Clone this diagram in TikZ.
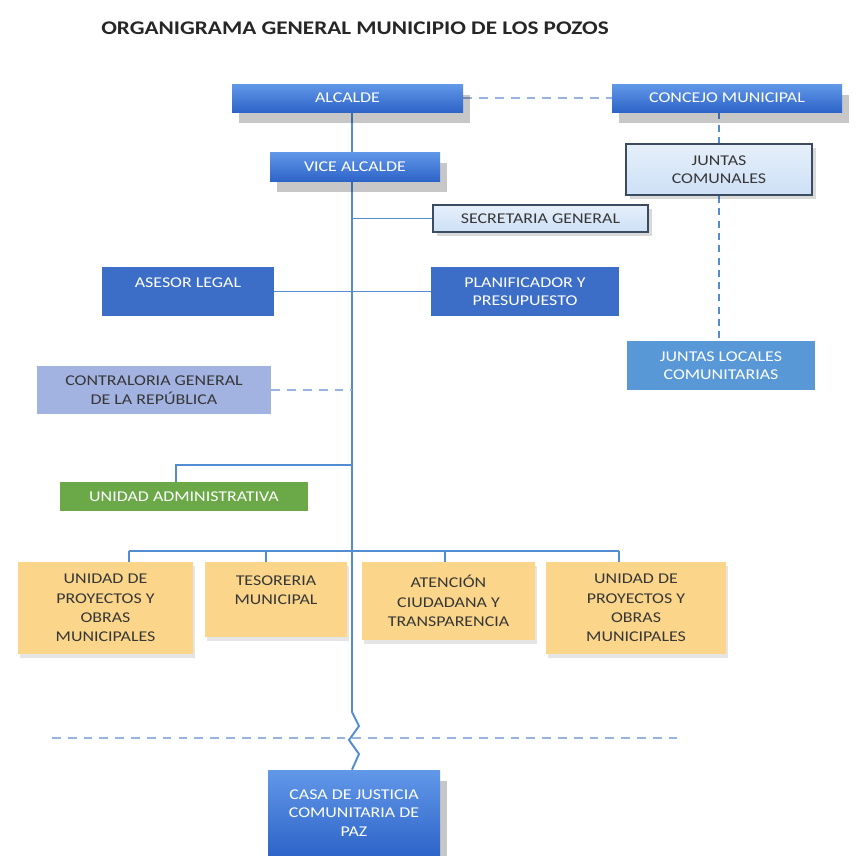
\documentclass[tikz,border=0pt]{standalone}
\usepackage{fontspec}
\setmainfont[FakeStretch=1.2]{Carlito}
\usetikzlibrary{shadows,backgrounds}
\definecolor{hdrT}{RGB}{98,152,232}
\definecolor{hdrB}{RGB}{45,100,200}
\definecolor{dkblue}{RGB}{60,110,200}
\definecolor{midblue}{RGB}{88,152,215}
\definecolor{lav}{RGB}{162,178,225}
\definecolor{grn}{RGB}{106,168,72}
\definecolor{lblue}{RGB}{205,224,246}
\definecolor{org}{RGB}{250,213,138}
\definecolor{lnc}{RGB}{82,140,210}
\definecolor{dashc}{RGB}{150,180,220}
\definecolor{txt}{RGB}{55,55,55}
\definecolor{bord}{RGB}{60,75,95}
\newcommand\obox[7]{\node[#6, minimum width={(#4-#2)*0.02cm}, minimum height={(#5-#3)*0.02cm}] (#1) at ({(#2+#4)/2},{(#3+#5)/2}) {#7};}
\begin{document}
\begin{tikzpicture}[x=0.02cm,y=-0.02cm,
  box/.style={inner sep=0pt, align=center, font=\fontsize{8.5}{10.5}\selectfont},
  hdr/.style={box, top color=hdrT, bottom color=hdrB, text=white,
    drop shadow={shadow xshift=4pt, shadow yshift=-6pt, fill=black, opacity=0.22}},
  solidb/.style={box, fill=dkblue, text=white},
  lbx/.style={box, top color=lblue!50, bottom color=lblue, draw=bord, line width=1.2pt, text=txt,
    drop shadow={shadow xshift=2pt, shadow yshift=-2pt, fill=black, opacity=0.15}},
  orb/.style={box, fill=org, text=txt, font=\fontsize{8.5}{11}\selectfont,
    drop shadow={shadow xshift=1pt, shadow yshift=-2pt, fill=black, opacity=0.10}},
  ln/.style={draw=lnc, line width=1.1pt},
  dln/.style={draw=dashc, line width=1.6pt, dash pattern=on 5pt off 4pt},
  vdln/.style={draw=lnc, line width=1.1pt, dash pattern=on 4pt off 3pt}]
\useasboundingbox (0,0) rectangle (856,856);

\node[font=\bfseries\fontsize{11}{13}\selectfont, text=black!85] (title) at (355,28) {ORGANIGRAMA GENERAL MUNICIPIO DE LOS POZOS};

\obox{alc}{232}{84}{463}{112}{hdr}{ALCALDE}
\obox{con}{612}{84}{842}{112}{hdr}{CONCEJO MUNICIPAL}
\obox{vic}{270}{152}{440}{181}{hdr}{VICE ALCALDE}
\obox{jc}{626}{144}{812}{195}{lbx}{JUNTAS\\COMUNALES}
\obox{sec}{433}{205}{648}{232}{lbx}{SECRETARIA GENERAL}
\obox{ase}{102}{267}{274}{316}{solidb}{ASESOR LEGAL\\\mbox{}}
\obox{pla}{431}{267}{619}{316}{solidb}{PLANIFICADOR Y\\PRESUPUESTO}
\obox{jl}{627}{341}{815}{390}{solidb, fill=midblue}{JUNTAS LOCALES\\COMUNITARIAS}
\obox{cgr}{37}{366}{271}{414}{solidb, fill=lav, text=txt}{CONTRALORIA GENERAL\\DE LA REPÚBLICA}
\obox{ua}{60}{482}{308}{511}{solidb, fill=grn}{UNIDAD ADMINISTRATIVA}
\obox{o1}{18}{562}{193}{654}{orb}{UNIDAD DE\\PROYECTOS Y\\OBRAS\\MUNICIPALES}
\obox{o2}{205}{562}{347}{637}{orb}{TESORERIA\\MUNICIPAL\\\mbox{}}
\obox{o3}{362}{562}{535}{640}{orb}{ATENCIÓN\\CIUDADANA Y\\TRANSPARENCIA}
\obox{o4}{546}{562}{726}{654}{orb}{UNIDAD DE\\PROYECTOS Y\\OBRAS\\MUNICIPALES}
\obox{cas}{268}{770}{440}{856}{hdr}{CASA DE JUSTICIA\\COMUNITARIA DE\\PAZ}

\coordinate (m) at (352,0);
\coordinate (uaj) at (176,465);
\coordinate (t1) at (129,551);
\coordinate (t2) at (266,551);
\coordinate (t3) at (445,551);
\coordinate (t4) at (619,551);
\coordinate (d1) at (52,738);
\coordinate (d2) at (680,738);

\begin{scope}[on background layer]
\fill[white] (0,0) rectangle (856,856);
\draw[dln] (alc.east) -- (con.west);
\draw[vdln] (con.south -| jc) -- (jc.north);
\draw[vdln] (jc.south) -- (jl.north -| jc);
\draw[ln] (alc.south -| m) -- (352,712) -- (359,726) -- (349,740) -- (359,754) -- (cas.north -| m);
\draw[ln] (m |- sec.west) -- (sec.west);
\draw[ln] (ase.east) -- (pla.west);
\draw[dln] (cgr.east) -- (m |- cgr.east);
\draw[ln] (m |- uaj) -- (uaj) -- (ua.north -| uaj);
\draw[ln] (t1) -- (t4);
\draw[ln] (t1) -- (t1 |- o1.north);
\draw[ln] (t2) -- (t2 |- o2.north);
\draw[ln] (t3) -- (t3 |- o3.north);
\draw[ln] (t4) -- (t4 |- o4.north);
\draw[dln] (d1) -- (d2);
\end{scope}
\end{tikzpicture}
\end{document}
